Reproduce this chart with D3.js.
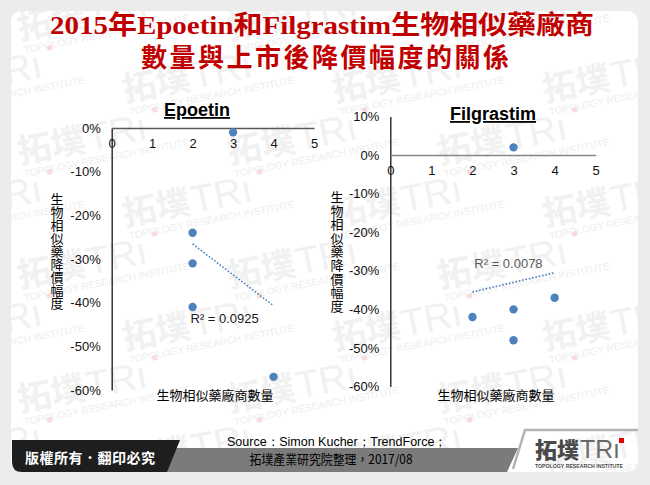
<!DOCTYPE html>
<html>
<head>
<meta charset="utf-8">
<script src="https://cdn.jsdelivr.net/npm/d3@7"></script>
<style>
  html, body { margin: 0; padding: 0; background: #ececec; }
  svg { display: block; }
</style>
</head>
<body>
<svg id="chart" width="650" height="485"></svg>
<script>
// ---- data ----
const titleLines = ["2015年Epoetin和Filgrastim生物相似藥廠商", "數量與上市後降價幅度的關係"];
const firmTicks = [0, 1, 2, 3, 4, 5];
const epoetinTicks = [0, -0.1, -0.2, -0.3, -0.4, -0.5, -0.6];
const filgrastimTicks = [0.1, 0, -0.1, -0.2, -0.3, -0.4, -0.5, -0.6];
const epoetinFirms = [3, 2, 2, 2, 4];
const epoetinDrop = [-0.01, -0.24, -0.31, -0.41, -0.57];
const filgrastimFirms = [3, 2, 3, 3, 4];
const filgrastimDrop = [0.02, -0.42, -0.40, -0.48, -0.37];
const xAxisTitle = "生物相似藥廠商數量";
const yAxisTitle = "生物相似藥降價幅度";
const sourceLines = ["Source：Simon Kucher；TrendForce；", "拓墣產業研究院整理，2017/08"];
const copyrightText = "版權所有．翻印必究";

const svg = d3.select("#chart");
const LATIN = "'Liberation Sans', Arial, sans-serif";
const CJK = "'Liberation Sans', 'Noto Sans CJK TC', sans-serif";
const BLUE = "#4f81bd";

// ---- panel ----
svg.append("rect").attr("x", 11).attr("y", 11).attr("width", 627).attr("height", 461)
  .attr("rx", 10).attr("fill", "#ffffff");

// ---- faint watermark tiles ----
const defs = svg.append("defs");
defs.append("clipPath").attr("id", "panelClip")
  .append("rect").attr("x", 11).attr("y", 11).attr("width", 627).attr("height", 461).attr("rx", 10);
const wm = svg.append("g").attr("clip-path", "url(#panelClip)");
for (let r = 0; r < 8; r++) {
  for (let c = -1; c < 4; c++) {
    const tx = c * 210 + (r % 2 ? 105 : 0) + 20;
    const ty = r * 62 + 40;
    if (tx < -120 || ty > 480) continue;
    const g = wm.append("g").attr("transform", `translate(${tx},${ty}) rotate(-11)`);
    g.append("text").attr("x", 0).attr("y", 0)
      .attr("font-family", "'Noto Sans CJK TC', sans-serif").attr("font-weight", 700)
      .attr("font-size", 34).attr("fill", "#f1f1f1").text("拓墣");
    g.append("text").attr("x", 70).attr("y", 0)
      .attr("font-family", LATIN).attr("font-size", 38).attr("fill", "#f1f1f1").text("TRı");
    g.append("rect").attr("x", 140).attr("y", -30).attr("width", 5).attr("height", 5).attr("fill", "#f8dcdc");
    g.append("text").attr("x", 2).attr("y", 14)
      .attr("font-family", LATIN).attr("font-size", 10).attr("fill", "#eeeeee")
      .text("TOPOLOGY RESEARCH INSTITUTE");
  }
}

// ---- title ----
svg.append("text").attr("x", 322).attr("y", 34).attr("text-anchor", "middle")
  .attr("font-family", "'Liberation Serif', 'Noto Sans CJK TC', serif").attr("font-weight", 700)
  .attr("font-size", 26).attr("fill", "#c00000")
  .attr("textLength", 544).attr("lengthAdjust", "spacingAndGlyphs")
  .text(titleLines[0]);
svg.append("text").attr("x", 325).attr("y", 67).attr("text-anchor", "middle")
  .attr("font-family", "'Liberation Serif', 'Noto Sans CJK TC', serif").attr("font-weight", 700)
  .attr("font-size", 26).attr("fill", "#c00000")
  .attr("textLength", 368).attr("lengthAdjust", "spacing")
  .text(titleLines[1]);

// ---- least squares fit ----
function fit(xs, ys) {
  const n = xs.length;
  const mx = d3.mean(xs), my = d3.mean(ys);
  let sxx = 0, sxy = 0, syy = 0;
  for (let i = 0; i < n; i++) {
    sxx += (xs[i] - mx) ** 2;
    sxy += (xs[i] - mx) * (ys[i] - my);
    syy += (ys[i] - my) ** 2;
  }
  const slope = sxy / sxx;
  return { slope, intercept: my - slope * mx, r2: (sxy * sxy) / (sxx * syy) };
}

const pct = d => Math.round(d * 100) + "%";

function scatter(cfg) {
  const x = d3.scaleLinear().domain([0, 5]).range(cfg.xRange);
  const y = d3.scaleLinear().domain(cfg.yDomain).range(cfg.yRange);
  const g = svg.append("g");

  // y axis
  const ya = g.append("g").attr("transform", `translate(${x(0)},0)`)
    .call(d3.axisLeft(y).tickValues(cfg.yTicks).tickSize(0).tickSizeOuter(0).tickPadding(11).tickFormat(pct));
  ya.select(".domain").attr("stroke", "#262626").attr("stroke-width", 1.4);
  ya.selectAll("text").attr("font-family", LATIN).attr("font-size", 13).attr("fill", "#111");

  // x axis sits on the zero line
  const xa = g.append("g").attr("transform", `translate(0,${y(0)})`)
    .call(d3.axisBottom(x).tickValues(firmTicks).tickSize(0).tickSizeOuter(0).tickPadding(11).tickFormat(d3.format("d")));
  xa.select(".domain").attr("stroke", cfg.xAxisColor).attr("stroke-width", 1.6);
  xa.selectAll("text").attr("font-family", LATIN).attr("font-size", 13).attr("fill", "#111");

  // chart title
  g.append("text").attr("x", cfg.titleX).attr("y", cfg.titleY).attr("text-anchor", "middle")
    .attr("font-family", LATIN).attr("font-weight", 700).attr("font-size", 18)
    .attr("text-decoration", "underline").attr("fill", "#000").text(cfg.title);

  // trend line over the observed firm counts
  const f = fit(cfg.xs, cfg.ys);
  const x0 = d3.min(cfg.xs), x1 = d3.max(cfg.xs);
  g.append("line")
    .attr("x1", x(x0)).attr("y1", y(f.intercept + f.slope * x0))
    .attr("x2", x(x1)).attr("y2", y(f.intercept + f.slope * x1))
    .attr("stroke", BLUE).attr("stroke-width", 1.6).attr("stroke-dasharray", "1.6,1.8");

  g.append("text").attr("x", cfg.r2X).attr("y", cfg.r2Y)
    .attr("font-family", LATIN).attr("font-size", 13).attr("fill", cfg.r2Color)
    .text("R² = " + f.r2.toFixed(4));

  // points
  g.selectAll("circle.pt").data(cfg.xs.map((v, i) => [v, cfg.ys[i]])).join("circle")
    .attr("class", "pt").attr("cx", d => x(d[0])).attr("cy", d => y(d[1])).attr("r", 4.2)
    .attr("fill", BLUE);

  // axis titles
  g.append("text").attr("x", cfg.xTitleX).attr("y", 400).attr("text-anchor", "middle")
    .attr("font-family", CJK).attr("font-size", 13).attr("fill", "#000").text(xAxisTitle);
  const chars = Array.from(yAxisTitle);
  g.append("text")
    .attr("text-anchor", "middle")
    .attr("font-family", CJK).attr("font-size", 13).attr("fill", "#000")
    .selectAll("tspan").data(chars).join("tspan")
    .attr("x", cfg.yTitleX).attr("y", (d, i) => cfg.yTitleY + i * cfg.yTitleStep)
    .text(d => d);
}

scatter({
  title: "Epoetin", titleX: 197, titleY: 116,
  xRange: [111.7, 314], yDomain: [-0.6, 0], yRange: [390, 128], yTicks: epoetinTicks,
  xs: epoetinFirms, ys: epoetinDrop, xAxisColor: "#595959",
  r2X: 190.5, r2Y: 323, r2Color: "#1a1a1a",
  xTitleX: 215, yTitleX: 57, yTitleY: 204, yTitleStep: 13
});

scatter({
  title: "Filgrastim", titleX: 493, titleY: 120,
  xRange: [390.3, 595.7], yDomain: [-0.6, 0.1], yRange: [386.5, 116.5], yTicks: filgrastimTicks,
  xs: filgrastimFirms, ys: filgrastimDrop, xAxisColor: "#868686",
  r2X: 474.3, r2Y: 268, r2Color: "#595959",
  xTitleX: 496, yTitleX: 337, yTitleY: 202, yTitleStep: 13.6
});

// ---- footer ----
svg.append("path")
  .attr("d", "M160,448 L518,448 L507,472 L160,472 Z").attr("fill", "#7b7b7b");
svg.append("path")
  .attr("d", "M513,469 L525,430 L638,430").attr("fill", "none").attr("stroke", "#b3b3b3").attr("stroke-width", 2.5);
svg.append("path")
  .attr("d", "M12,440 L180,440 L167,472 L22,472 Q12,472 12,462 Z").attr("fill", "#1e1e1e");
svg.append("text").attr("x", 25).attr("y", 463)
  .attr("font-family", "'Noto Sans CJK TC', sans-serif").attr("font-weight", 700).attr("font-size", 14)
  .attr("fill", "#ffffff").attr("textLength", 130).attr("lengthAdjust", "spacing").text(copyrightText);

svg.append("text").attr("x", 337).attr("y", 446).attr("text-anchor", "middle")
  .attr("font-family", "'Liberation Sans Narrow', 'Liberation Sans', sans-serif").attr("font-size", 13)
  .attr("fill", "#000").attr("textLength", 220).attr("lengthAdjust", "spacingAndGlyphs").text(sourceLines[0]);
svg.append("text").attr("x", 331).attr("y", 464).attr("text-anchor", "middle")
  .attr("font-family", "'Liberation Sans Narrow', 'Noto Sans CJK TC', sans-serif").attr("font-size", 13)
  .attr("fill", "#000").attr("textLength", 163).attr("lengthAdjust", "spacingAndGlyphs").text(sourceLines[1]);

// logo
const logo = svg.append("g");
logo.append("text").attr("x", 535).attr("y", 458)
  .attr("font-family", "'Noto Sans CJK TC', sans-serif").attr("font-weight", 900).attr("font-size", 22)
  .attr("fill", "#4a4a4a").text("拓墣");
logo.append("text").attr("x", 580).attr("y", 458)
  .attr("font-family", LATIN).attr("font-size", 25).attr("fill", "#6a6a6a")
  .attr("textLength", 40).attr("lengthAdjust", "spacingAndGlyphs").text("TRı");
logo.append("rect").attr("x", 619).attr("y", 438).attr("width", 5).attr("height", 5).attr("fill", "#e00000");
logo.append("text").attr("x", 535).attr("y", 468)
  .attr("font-family", LATIN).attr("font-weight", 700).attr("font-size", 6)
  .attr("fill", "#4a4a4a").attr("textLength", 88).attr("lengthAdjust", "spacingAndGlyphs")
  .text("TOPOLOGY RESEARCH INSTITUTE");
</script>
</body>
</html>
